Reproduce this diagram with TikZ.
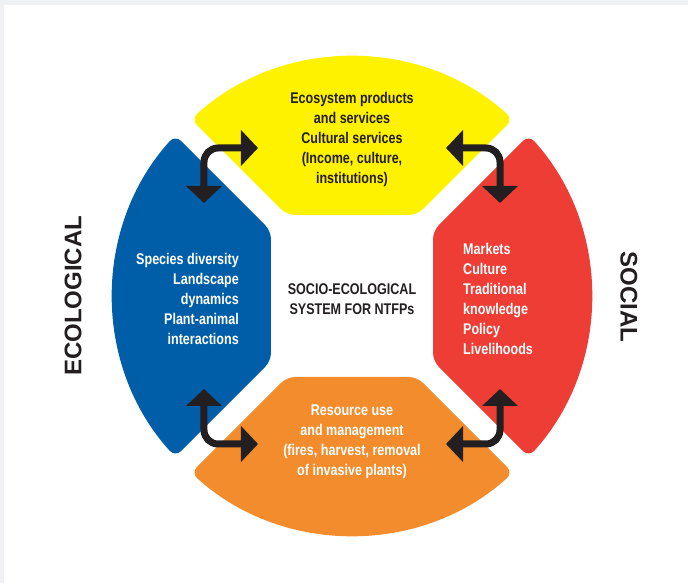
\documentclass[tikz,border=0pt]{standalone}
\usepackage{fontspec}
\setmainfont{Liberation Sans}
\newfontfamily\schmalfont[FakeStretch=0.81]{Liberation Sans}
\usepackage{tikz}
\usetikzlibrary{arrows.meta}
\definecolor{gelb}{HTML}{FFF200}
\definecolor{blau}{HTML}{005EA8}
\definecolor{rot}{HTML}{EE3D35}
\definecolor{orange}{HTML}{F28C2C}
\definecolor{schwarz}{HTML}{231F20}
\definecolor{rand}{HTML}{F0F1F3}

\begin{document}
\begin{tikzpicture}[x=1pt, y=1pt,
	schrift/.style={font=\schmalfont\bfseries\fontsize{15.5}{20}\selectfont, inner sep=0pt},
	dunkel/.style={schrift, text=schwarz},
	hell/.style={schrift, text=white},
	gross/.style={font=\bfseries\fontsize{24}{24}\selectfont, text=schwarz, inner sep=0pt},
	pfeil/.style={draw=schwarz, line width=7pt, rounded corners=14pt,
		{Triangle[length=17pt,width=35pt]}-{Triangle[length=17pt,width=35pt]}}]
	
	\def\rad{239}
	\def\innen{81}
	
	% Hintergrund mit Rand
	\useasboundingbox (-352,-287) rectangle (336,296);
	\fill[rand] (-352,-287) rectangle (336,296);
	\fill[white] (-348,-287) rectangle (336,291);
	
	% Segmente
	\foreach \ang/\col in {0/gelb, 90/blau, 180/orange, 270/rot}{
		\fill[\col, rounded corners=8pt, rotate=\ang]
		      (-65,\innen)
		      -- (132.3:\rad) arc[start angle=132.3, end angle=47.7, radius=\rad]
		      -- (65,\innen)
		      -- cycle;
	}
	
	% Texte
	\node[dunkel, align=center] (oben) at (0,157) {Ecosystem products\\and services\\Cultural services\\(Income, culture,\\institutions)};
	\node[hell, align=right, anchor=east] (links) at (-113,-3) {Species diversity\\Landscape\\dynamics\\Plant-animal\\interactions};
	\node[hell, align=left, anchor=west] (rechts) at (111,-3) {Markets\\Culture\\Traditional\\knowledge\\Policy\\Livelihoods};
	\node[hell, align=center] (unten) at (0,-146) {Resource use\\and management\\(fires, harvest, removal\\of invasive plants)};
	\node[dunkel, align=center] (mitte) at (0,-3) {SOCIO-ECOLOGICAL\\SYSTEM FOR NTFPs};
	
	\node[gross, rotate=90] (oeko) at (-279,0) {ECOLOGICAL};
	\node[gross, rotate=-90] (sozial) at (277,-1) {SOCIAL};
	
	% Pfeilspitzen
	\coordinate (ol1) at (-94,148);
	\coordinate (ol2) at (-148,93);
	\coordinate (or1) at (94,148);
	\coordinate (or2) at (148,93);
	\coordinate (ul1) at (-94,-148);
	\coordinate (ul2) at (-148,-93);
	\coordinate (ur1) at (94,-148);
	\coordinate (ur2) at (148,-93);
	
	% Pfeile
	\draw[pfeil] (ol1) -| (ol2);
	\draw[pfeil] (or1) -| (or2);
	\draw[pfeil] (ul1) -| (ul2);
	\draw[pfeil] (ur1) -| (ur2);
\end{tikzpicture}
\end{document}
